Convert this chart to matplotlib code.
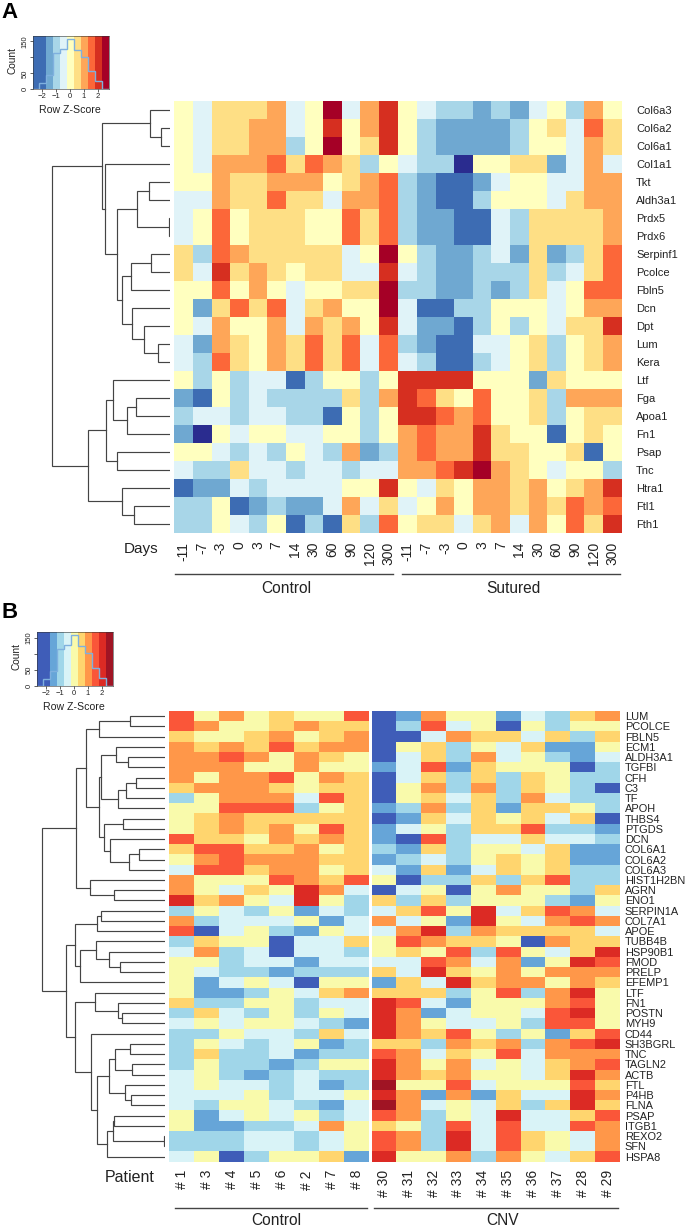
import matplotlib
matplotlib.use('Agg')
import numpy as np
import matplotlib.pyplot as plt
from matplotlib.colors import ListedColormap, BoundaryNorm

plt.rcParams['font.family'] = ['Liberation Sans', 'DejaVu Sans']

W, H = 685, 1229

# colour bins: -4 navy ... 1 yellow ... 6 dark red
genes_a = ['Col6a3', 'Col6a2', 'Col6a1', 'Col1a1', 'Tkt', 'Aldh3a1', 'Prdx5', 'Prdx6', 'Serpinf1', 'Pcolce',
           'Fbln5', 'Dcn', 'Dpt', 'Lum', 'Kera', 'Ltf', 'Fga', 'Apoa1', 'Fn1', 'Psap', 'Tnc', 'Htra1', 'Ftl1', 'Fth1']
days = ['-11', '-7', '-3', '0', '3', '7', '14', '30', '60', '90', '120', '300']
control_a = [
    [1, 0, 2, 2, 2, 3, 0, 1, 6, 0, 3, 5],
    [1, 0, 2, 2, 3, 3, 0, 1, 5, 1, 3, 5],
    [1, 0, 2, 2, 3, 3, -1, 1, 6, 1, 2, 5],
    [1, 0, 3, 3, 3, 4, 2, 4, 3, 2, -1, 1],
    [1, 1, 3, 2, 2, 3, 3, 3, 1, 2, 3, 4],
    [0, 0, 3, 2, 2, 4, 2, 2, 0, 3, 3, 4],
    [0, 1, 4, 1, 2, 2, 2, 1, 1, 4, 2, 4],
    [0, 1, 4, 1, 2, 2, 2, 1, 1, 4, 2, 4],
    [2, -1, 4, 3, 2, 2, 2, 2, 2, 0, 1, 6],
    [2, 0, 5, 2, 3, 2, 1, 2, 2, 0, 0, 5],
    [1, 1, 4, 1, 3, 1, 0, 1, 1, 2, 2, 6],
    [1, -2, 2, 4, 2, 4, 0, 2, 3, 1, 1, 6],
    [1, 0, 3, 1, 1, 3, 0, 3, 2, 3, 1, 5],
    [0, -2, 3, 2, 1, 3, 2, 4, 2, 4, 0, 4],
    [0, -1, 4, 2, 1, 3, 2, 4, 2, 4, 0, 4],
    [1, -1, 1, -1, 0, 0, -3, -1, 1, 1, -1, 1],
    [-2, -3, 1, -1, 0, -1, -1, -1, -1, 2, -1, 3],
    [-1, 0, 0, -1, 0, 0, -1, -1, -3, 1, -1, 1],
    [-2, -4, 1, 0, 1, 1, 0, 0, 1, 1, -1, 1],
    [1, 1, 0, -1, 0, -1, 1, 0, -1, 3, -2, -1],
    [0, -1, -1, 2, 0, 0, -1, 0, 0, -1, 0, 0],
    [-3, -2, -2, 0, -1, 0, 0, 0, 0, 1, 1, 5],
    [-1, -1, 1, -3, -2, -1, -2, -2, 0, 3, 0, 2],
    [-1, -1, 1, 0, -1, 1, -3, -1, -3, 2, -1, 4],
]
sutured_a = [
    [1, 0, -1, -1, -2, -1, -2, 0, 1, -1, 3, 1],
    [1, -1, -2, -2, -2, -2, -1, 1, 2, 0, 4, 2],
    [1, -1, -2, -2, -2, -2, -1, 1, 1, 0, 3, 2],
    [0, -1, -1, -4, 1, 1, 2, 2, -2, 0, 3, 0],
    [-1, -2, -3, -3, -2, 0, 1, 1, 0, 0, 3, 3],
    [-1, -2, -3, -3, -1, 1, 1, 1, 0, 2, 3, 3],
    [-1, -2, -2, -3, -3, 0, -1, 2, 2, 2, 2, 3],
    [-1, -2, -2, -3, -3, 0, -1, 2, 2, 2, 2, 3],
    [1, -1, -2, -2, -1, 0, -2, 2, -2, -1, 2, 4],
    [0, -1, -2, -2, -1, -1, -1, 2, -1, 0, 2, 4],
    [-1, -1, -2, -2, -1, -2, -1, 2, 0, 1, 4, 4],
    [0, -3, -3, -1, -1, 1, 1, 1, 0, 1, 3, 3],
    [0, -2, -2, -3, -1, 1, -1, 1, 0, 2, 2, 5],
    [-1, -2, -3, -3, 0, 0, 1, 2, -1, 1, 2, 3],
    [0, -1, -3, -3, -1, 0, 1, 2, -1, 1, 2, 3],
    [5, 5, 5, 5, 1, 1, 1, -2, 2, 1, 1, 1],
    [5, 4, 2, 1, 4, 1, 1, 2, -1, 3, 3, 3],
    [5, 5, 4, 3, 4, 1, 1, 2, -1, 1, 2, 2],
    [3, 4, 3, 3, 5, 2, 1, 1, -3, 1, 2, 1],
    [3, 4, 3, 3, 5, 2, 2, 1, 1, 2, -3, 1],
    [3, 3, 4, 5, 6, 3, 2, 1, 0, 1, 1, -1],
    [1, 0, 2, 1, 3, 3, 2, 3, 1, 2, 3, 5],
    [0, 1, 3, 1, 3, 3, 2, 3, 2, 4, 3, 4],
    [1, 2, 2, 0, 2, 3, 0, 3, 1, 4, 2, 5],
]

genes_b = ['LUM', 'PCOLCE', 'FBLN5', 'ECM1', 'ALDH3A1', 'TGFBI', 'CFH', 'C3', 'TF', 'APOH', 'THBS4', 'PTGDS', 'DCN',
           'COL6A1', 'COL6A2', 'COL6A3', 'HIST1H2BN', 'AGRN', 'ENO1', 'SERPIN1A', 'COL7A1', 'APOE', 'TUBB4B',
           'HSP90B1', 'FMOD', 'PRELP', 'EFEMP1', 'LTF', 'FN1', 'POSTN', 'MYH9', 'CD44', 'SH3BGRL', 'TNC', 'TAGLN2',
           'ACTB', 'FTL', 'P4HB', 'FLNA', 'PSAP', 'ITGB1', 'REXO2', 'SFN', 'HSPA8']
patients_control = ['# 1', '# 3', '# 4', '# 5', '# 6', '# 2', '# 7', '# 8']
patients_cnv = ['# 30', '# 31', '# 32', '# 33', '# 34', '# 35', '# 36', '# 37', '# 28', '# 29']
control_b = [
    [4, 1, 3, 1, 2, 1, 1, 4],
    [4, 3, 1, 1, 2, 3, 2, 2],
    [2, 1, 1, 2, 3, 1, 2, 3],
    [3, 2, 3, 2, 4, 2, 3, 3],
    [3, 3, 4, 3, 1, 3, 2, 1],
    [3, 3, 3, 1, 1, 3, 1, 1],
    [3, 1, 3, 3, 4, 1, 3, 2],
    [2, 3, 3, 3, 2, 1, 2, 2],
    [-1, 1, 3, 3, 3, 0, 4, 2],
    [1, 1, 4, 4, 4, -1, 1, 2],
    [1, 2, 3, 2, 2, 2, 2, 2],
    [1, 2, 3, 2, 3, 1, 4, 2],
    [4, 2, 2, 1, 3, 2, 3, 2],
    [2, 4, 4, 2, 2, 3, 1, 2],
    [1, 3, 4, 3, 3, 3, 2, 2],
    [0, 4, 4, 2, 3, 3, 1, 2],
    [3, 1, 1, 1, 4, 3, 2, 4],
    [3, 1, 0, 2, 1, 5, 3, 0],
    [5, 2, 3, 1, 0, 5, 1, -1],
    [-1, 1, 0, -1, 1, -2, 0, -1],
    [3, -1, 0, 0, 0, 1, -2, 0],
    [4, -3, 0, 1, -1, -2, 1, 0],
    [-1, 2, 1, 1, -3, 0, 0, 2],
    [0, 3, -1, 0, -3, 0, 0, -1],
    [1, 1, -1, 0, 0, -2, 0, 0],
    [1, 0, -1, -1, -2, -1, -1, -1],
    [1, -2, 0, 1, 0, -3, 1, 1],
    [1, -2, -2, -1, 1, 0, 2, 3],
    [2, -1, -1, 1, 1, -1, 0, 0],
    [-1, 2, 0, -1, 1, -1, 1, 0],
    [0, 1, 0, 1, 1, 0, -1, -2],
    [-1, -1, 1, 0, 0, -1, 2, 0],
    [-1, 1, 0, -1, 0, 1, -2, -1],
    [-1, 2, -1, -1, 0, -2, -1, -1],
    [-1, 1, -1, -1, -2, -1, 1, 1],
    [0, 1, -1, -2, -1, 0, -1, -1],
    [0, 1, 0, 0, -1, 0, -2, -1],
    [0, 0, 0, 1, -1, 0, 0, 1],
    [0, -1, 1, 1, 0, -1, -2, 0],
    [1, -2, 0, 1, 0, 1, -1, 0],
    [1, -2, -2, -1, -1, 0, 3, 1],
    [-1, -1, -1, 0, 0, -1, 0, 1],
    [-1, -1, -1, 0, 0, -1, 0, 1],
    [0, 1, -3, -1, 1, 1, 2, -2],
]
cnv_b = [
    [-3, -2, 3, 1, 1, -2, 0, -1, 2, 3],
    [-3, -1, 4, 0, 1, -3, 1, -1, 1, 1],
    [-3, -3, 0, 3, 2, 2, 0, 2, -1, 2],
    [-3, 1, 2, -1, 1, 0, 2, -2, -2, 1],
    [-3, 0, 2, -1, 3, 0, 1, -1, -2, 0],
    [-2, 0, 4, -2, 2, 1, 1, 1, -3, -1],
    [-3, 0, 2, -1, 2, -1, 2, 1, -1, -1],
    [-3, 1, 3, -1, 3, -1, 2, 1, -1, -3],
    [-3, 1, 2, 0, 2, -1, 3, 0, -1, -1],
    [-2, -1, 3, -1, 2, -2, 2, 2, 1, -1],
    [-3, -2, 2, 0, 2, 1, 2, 0, 2, -3],
    [-2, 0, 1, -1, 2, 2, 4, -1, -1, -2],
    [-2, -3, 4, -1, 0, 0, 2, 0, 0, -1],
    [-1, -2, 2, -1, 1, 1, 0, 2, -2, -2],
    [-2, -1, 0, -1, 1, 2, 1, 2, -2, -2],
    [0, -2, 2, -2, 0, 2, 1, 2, -1, -1],
    [1, -3, -1, -1, 2, -1, 2, 4, -1, -1],
    [-3, 0, 1, -3, 1, 3, 1, 1, -1, 2],
    [2, -1, 2, -1, 1, 1, 1, -1, -2, 1],
    [0, 2, 4, 1, 5, 0, 2, 4, 3, 0],
    [3, 0, 1, -2, 5, 1, 0, 3, 4, 3],
    [0, 3, 5, -1, 3, 2, 2, 2, 2, 0],
    [1, 4, 3, 2, 2, 1, -3, 3, 2, 2],
    [1, 2, 1, 4, -1, 4, 1, 0, 2, 5],
    [0, 0, 4, 3, 0, 3, -2, 1, 5, 4],
    [2, 0, 5, 2, 1, 3, 1, 3, 3, 3],
    [-2, 2, 0, 5, 2, 3, 3, 1, 3, 2],
    [2, 2, 2, -1, 1, 4, -1, 3, 5, 1],
    [5, 4, 0, -2, 1, 1, 1, 3, 4, 1],
    [5, 3, -2, 0, 1, 1, 0, 4, 5, 1],
    [5, 3, 1, 0, 0, 1, -1, 4, 4, 1],
    [5, 3, 2, 4, 1, -1, 1, -2, 2, 4],
    [2, 2, -1, 3, 2, 3, -1, 3, 4, 5],
    [4, 3, 0, 2, 1, 4, 0, 3, 3, 3],
    [5, 3, 1, 3, 0, 1, 0, 2, 3, 4],
    [5, 3, 2, 3, 1, 1, 0, 2, 5, 3],
    [6, 1, 1, 4, 0, 1, 1, 1, 4, 2],
    [5, 3, -2, 3, -2, 2, 0, 0, 5, 3],
    [6, 3, 0, 1, 0, 2, -1, 2, 5, 2],
    [4, 3, -1, 1, 0, 5, 0, 0, 2, 4],
    [2, 1, -1, 4, 0, 4, 0, 0, 4, 3],
    [4, 3, -1, 5, 0, 4, 2, 1, 0, 3],
    [4, 3, -1, 5, 0, 4, 2, 1, 0, 3],
    [5, 1, 1, 3, -1, 3, 1, 0, 2, 4],
]

# colour key histograms
band_edges = [-2.70, -1.72, -1.24, -0.72, -0.23, 0.29, 0.80, 1.28, 1.80, 2.29, 2.80]
band_levels = [-3, -2, -1, 0, 1, 2, 3, 4, 5, 6]
hist_edges = [-2.70, -2.22, -1.72, -1.20, -0.72, -0.23, 0.29, 0.80, 1.28, 1.78, 2.29, 2.80]
hist_a = [0, 21, 46, 115, 125, 158, 124, 102, 56, 25, 0]
hist_b = [0, 22, 48, 115, 128, 159, 126, 104, 57, 27, 0]

# dendrograms: (merge position, first child, second child), an int is a row
tree_a = (52, (102, (150, 0, (161, 1, 2)),
               (105.3, 3, (117.3, (136.7, (148.7, 4, 5), (169, 6, 7)),
                           (122, (130.7, (150.7, 8, 9), 10),
                            (132, 11, (144, 12, (158.3, 13, 14))))))),
          (87.7, (105.7, (113.3, 15, (127, (136, 16, 17), 18)), (117.3, 19, 20)),
           (122, 21, (134, 22, 23))))
tree_b = (41.7,
          (76, (86.3, (99.3, (130, 0, 1), 2),
                (99, (101, (115.7, 3, (128.3, 4, 5)),
                      (118, (125.7, (135.7, 6, 7), 8), 9)),
                 (104.3, (122.7, 10, 11),
                  (110, 12, (129, (139, 13, 14), 15))))),
           (90, 16, (113.7, 17, 18))),
          (65.7,
           (74.7, (97.3, (100.7, 19, 20), 21),
            (80.3, (95.7, 22, (109.3, 23, (119.7, 24, 25))), 26)),
           (75.3, (95, 27, (117.7, 28, (122.3, 29, 30))),
            (91.3, 31,
             (97.3, (108.7, (114.7, (130, 32, 33), (132, 34, 35)),
                     (124.7, 36, (130.7, 37, 38))),
              (107.3, (112.7, (114.3, 39, 40), (164, 41, 42)), 43))))))

colors_a = ['#2A2C8F', '#3D6CB3', '#6FA8D1', '#A8D6E8', '#E0F3F8', '#FFFFBF', '#FEDF85', '#FEA658', '#FC6739',
            '#D62F20', '#A50026']
colors_b = ['#2A2C8F', '#3F5DB8', '#66A5D8', '#A0D6E9', '#D9F3F7', '#F9FAAB', '#FFD56E', '#FF9749', '#FA5639',
            '#DC2A24', '#A01424']
line_col = '#444444'
text_col = '#222222'


def px_axes(fig, left, top, right, bottom):
    return fig.add_axes([left / W, 1 - bottom / H, (right - left) / W, (bottom - top) / H])


def put_text(fig, x, y, s, **kw):
    kw.setdefault('ha', 'center')
    kw.setdefault('va', 'center')
    kw.setdefault('color', text_col)
    fig.text(x / W, 1 - y / H, s, **kw)


def heat(ax, values, colors, col_labels, tick_size, pad, gene_labels=None, gene_size=8, gene_pad=3):
    values = np.array(values)
    cmap = ListedColormap(colors)
    norm = BoundaryNorm(np.arange(-4.5, 7.5), cmap.N)
    ax.pcolormesh(values, cmap=cmap, norm=norm)
    ax.set_ylim(len(values), 0)
    for s in ax.spines.values():
        s.set_visible(False)
    ax.set_xticks(np.arange(len(col_labels)) + 0.5)
    ax.set_xticklabels(col_labels, rotation=90, va='top', fontsize=tick_size, color=text_col)
    ax.tick_params(axis='x', length=0, pad=pad)
    ax.tick_params(axis='y', length=0)
    if gene_labels is None:
        ax.set_yticks([])
    else:
        ax.yaxis.tick_right()
        ax.set_yticks(np.arange(len(gene_labels)) + 0.5)
        ax.set_yticklabels(gene_labels, fontsize=gene_size, color=text_col)
        ax.tick_params(axis='y', length=0, pad=gene_pad)


def draw_tree(ax, node, leaf_x):
    # returns (x, row centre) of the node, children are drawn first
    if isinstance(node, int):
        return leaf_x, node + 0.5
    x, first, second = node
    x1, y1 = draw_tree(ax, first, leaf_x)
    x2, y2 = draw_tree(ax, second, leaf_x)
    ax.plot([x1, x, x, x2], [y1, y1, y2, y2], color=line_col, lw=0.85, solid_joinstyle='miter')
    return x, (y1 + y2) / 2


def colour_key(fig, box, colors, counts, count_xy, score_xy):
    ax = px_axes(fig, *box)
    cmap = ListedColormap(colors)
    norm = BoundaryNorm(np.arange(-4.5, 7.5), cmap.N)
    ax.pcolormesh(band_edges, [0, 168], [band_levels], cmap=cmap, norm=norm)
    ax.stairs(counts, hist_edges, color='#7FB0DE', lw=1.0)
    ax.set_xlim(band_edges[0], band_edges[-1])
    ax.set_ylim(0, 168)
    ax.set_xticks([-2, -1, 0, 1, 2])
    ax.set_yticks([0, 50, 100, 150])
    ax.set_yticklabels(['0', '50', '', '150'], rotation=90, va='center')
    ax.tick_params(labelsize=5.5, length=2, width=0.5, pad=1, colors=text_col)
    for s in ax.spines.values():
        s.set_linewidth(0.4)
        s.set_color('#333333')
    put_text(fig, count_xy[0], count_xy[1], 'Count', fontsize=7.3, rotation=90)
    put_text(fig, score_xy[0], score_xy[1], 'Row Z-Score', fontsize=7.6)


fig = plt.figure(figsize=(W / 100, H / 100), dpi=100)

# panel A
put_text(fig, 10, 12, 'A', fontsize=16, fontweight='bold', color='black')
colour_key(fig, (32.7, 35.7, 108.7, 89.3), colors_a, hist_a, (13, 60.5), (70, 110))
ax = px_axes(fig, 174.3, 101, 397.5, 532.7)
heat(ax, control_a, colors_a, days, 10, 6.5)
ax = px_axes(fig, 398.5, 101, 621.7, 532.7)
heat(ax, sutured_a, colors_a, days, 10, 6.5, genes_a, 8, 10.3)
ax = px_axes(fig, 0, 101, 170, 532.7)
draw_tree(ax, tree_a, 170)
ax.set_xlim(0, 170)
ax.set_ylim(len(genes_a), 0)
ax.axis('off')
put_text(fig, 141, 549, 'Days', fontsize=11)
line_ax = px_axes(fig, 0, 560, W, 600)
line_ax.plot([175, 393], [573.7, 573.7], color=line_col, lw=1.0)
line_ax.plot([402.3, 620.3], [573.7, 573.7], color=line_col, lw=1.0)
line_ax.set_xlim(0, W)
line_ax.set_ylim(600, 560)
line_ax.axis('off')
put_text(fig, 286.7, 588, 'Control', fontsize=11.2)
put_text(fig, 513, 588, 'Sutured', fontsize=11.2)

# panel B
put_text(fig, 10, 613, 'B', fontsize=16, fontweight='bold', color='black')
colour_key(fig, (36.7, 632.3, 112.7, 686.3), colors_b, hist_b, (16.7, 657), (74, 706.5))
ax = px_axes(fig, 169, 711, 369.3, 1161.7)
heat(ax, control_b, colors_b, patients_control, 10, 6)
ax = px_axes(fig, 371.5, 711, 620, 1161.7)
heat(ax, cnv_b, colors_b, patients_cnv, 10, 6, genes_b, 7.9, 3.4)
ax = px_axes(fig, 0, 711, 164.7, 1161.7)
draw_tree(ax, tree_b, 164.7)
ax.set_xlim(0, 164.7)
ax.set_ylim(len(genes_b), 0)
ax.axis('off')
put_text(fig, 129.5, 1177, 'Patient', fontsize=11.5)
line_ax = px_axes(fig, 0, 1195, W, 1215)
line_ax.plot([175, 367.3], [1207.7, 1207.7], color=line_col, lw=1.0)
line_ax.plot([374.3, 618.3], [1207.7, 1207.7], color=line_col, lw=1.0)
line_ax.set_xlim(0, W)
line_ax.set_ylim(1215, 1195)
line_ax.axis('off')
put_text(fig, 276.7, 1220.5, 'Control', fontsize=11.2)
put_text(fig, 503, 1220.5, 'CNV', fontsize=11.2)

fig.savefig('out.png', dpi=100)
